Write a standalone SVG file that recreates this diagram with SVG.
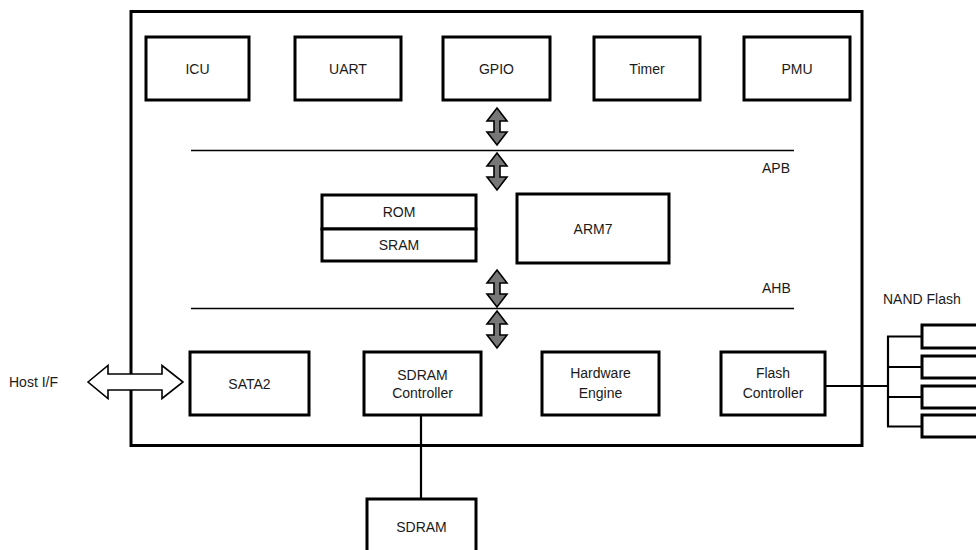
<svg xmlns="http://www.w3.org/2000/svg" width="976" height="550" viewBox="0 0 976 550">
<style>
.box{fill:#fff;stroke:#000;stroke-width:3}
.t{font-family:"Liberation Sans",Arial,sans-serif;font-size:14px;fill:#1a1a1a;text-anchor:middle}
.tl{font-family:"Liberation Sans",Arial,sans-serif;font-size:14px;fill:#1a1a1a}
.bus{stroke:#000;stroke-width:1.6;fill:none}
.wire{stroke:#000;stroke-width:2.2;fill:none}
.varr{fill:#777;stroke:#000;stroke-width:1.6;stroke-linejoin:miter}
.harr{fill:#fff;stroke:#000;stroke-width:1.6}
</style>
<defs>
<polygon id="va" points="0,0 10,13 3,13 3,24 10,24 0,37 -10,24 -3,24 -3,13 -10,13"/>
</defs>
<rect id="chip" x="131" y="11.5" width="731" height="434" fill="none" stroke="#000" stroke-width="3"/>
<g id="connectors">
<line class="bus" x1="191" y1="150.5" x2="794" y2="150.5"/>
<line class="bus" x1="191" y1="308.5" x2="794" y2="308.5"/>
<use href="#va" class="varr" x="497" y="108"/>
<use href="#va" class="varr" x="497" y="153"/>
<use href="#va" class="varr" x="497" y="270"/>
<use href="#va" class="varr" x="497" y="311"/>
<polygon class="harr" points="88,382 108,365.5 108,374 162,374 162,365.5 183,382 162,398.5 162,390 108,390 108,398.5"/>
<line class="wire" x1="421" y1="415" x2="421" y2="499"/>
<line class="wire" x1="825" y1="386" x2="888" y2="386"/>
<line class="wire" x1="888" y1="336.5" x2="888" y2="426.5"/>
<line class="wire" x1="887" y1="336.5" x2="922" y2="336.5"/>
<line class="wire" x1="887" y1="367" x2="922" y2="367"/>
<line class="wire" x1="887" y1="397" x2="922" y2="397"/>
<line class="wire" x1="887" y1="426.5" x2="922" y2="426.5"/>
</g>
<g id="icu"><rect class="box" x="146" y="37" width="103" height="63"/><text class="t" x="197.5" y="74">ICU</text></g>
<g id="uart"><rect class="box" x="295" y="37" width="106" height="63"/><text class="t" x="348" y="74">UART</text></g>
<g id="gpio"><rect class="box" x="443" y="37" width="107" height="63"/><text class="t" x="496.5" y="74">GPIO</text></g>
<g id="timer"><rect class="box" x="594" y="37" width="106" height="63"/><text class="t" x="647" y="74">Timer</text></g>
<g id="pmu"><rect class="box" x="744" y="37" width="106" height="63"/><text class="t" x="797" y="74">PMU</text></g>
<g id="apb"><text class="tl" x="762" y="173">APB</text></g>
<g id="ahb"><text class="tl" x="762" y="293">AHB</text></g>
<g id="rom"><rect class="box" x="322" y="195" width="154" height="34"/><text class="t" x="399" y="217">ROM</text></g>
<g id="sram"><rect class="box" x="322" y="229" width="154" height="32"/><text class="t" x="399" y="250">SRAM</text></g>
<g id="arm7"><rect class="box" x="517" y="194" width="152" height="69"/><text class="t" x="593" y="234">ARM7</text></g>
<g id="hostif"><text class="tl" x="9" y="387">Host I/F</text></g>
<g id="sata2"><rect class="box" x="190" y="352" width="119" height="63"/><text class="t" x="249.5" y="389">SATA2</text></g>
<g id="sdramctrl"><rect class="box" x="364" y="352" width="117" height="63"/><text class="t" x="422.5" y="380">SDRAM</text><text class="t" x="422.5" y="398">Controller</text></g>
<g id="hwengine"><rect class="box" x="542" y="352" width="117" height="63"/><text class="t" x="600.5" y="378">Hardware</text><text class="t" x="600.5" y="398">Engine</text></g>
<g id="flashctrl"><rect class="box" x="721" y="352" width="104" height="63"/><text class="t" x="773" y="378">Flash</text><text class="t" x="773" y="398">Controller</text></g>
<g id="sdram"><rect class="box" x="367" y="499" width="109" height="60"/><text class="t" x="421.5" y="532">SDRAM</text></g>
<g id="nandflash">
<text class="tl" x="883" y="304">NAND Flash</text>
<rect class="box" x="922" y="325" width="70" height="23"/>
<rect class="box" x="922" y="356" width="70" height="22"/>
<rect class="box" x="922" y="386" width="70" height="22"/>
<rect class="box" x="922" y="415" width="70" height="22"/>
</g>
</svg>
